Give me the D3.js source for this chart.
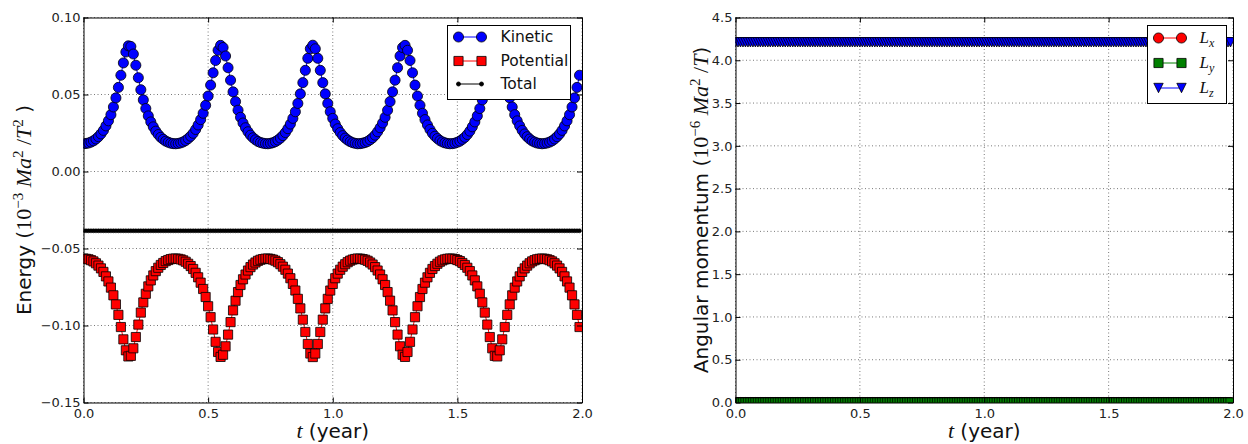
<!DOCTYPE html>
<html>
<head>
<meta charset="utf-8">
<script src="https://cdn.jsdelivr.net/npm/d3@7"></script>
<style>
  html, body { margin: 0; padding: 0; background: #fff; }
  svg { display: block; font-family: "DejaVu Sans", sans-serif; }
</style>
</head>
<body>
<svg id="chart" width="1248" height="444"></svg>
<script>
// sample times (year)
const years = [
    0.00, 0.01, 0.02, 0.03, 0.04, 0.05, 0.06, 0.07, 0.08, 0.09,
    0.10, 0.11, 0.12, 0.13, 0.14, 0.15, 0.16, 0.17, 0.18, 0.19,
    0.20, 0.21, 0.22, 0.23, 0.24, 0.25, 0.26, 0.27, 0.28, 0.29,
    0.30, 0.31, 0.32, 0.33, 0.34, 0.35, 0.36, 0.37, 0.38, 0.39,
    0.40, 0.41, 0.42, 0.43, 0.44, 0.45, 0.46, 0.47, 0.48, 0.49,
    0.50, 0.51, 0.52, 0.53, 0.54, 0.55, 0.56, 0.57, 0.58, 0.59,
    0.60, 0.61, 0.62, 0.63, 0.64, 0.65, 0.66, 0.67, 0.68, 0.69,
    0.70, 0.71, 0.72, 0.73, 0.74, 0.75, 0.76, 0.77, 0.78, 0.79,
    0.80, 0.81, 0.82, 0.83, 0.84, 0.85, 0.86, 0.87, 0.88, 0.89,
    0.90, 0.91, 0.92, 0.93, 0.94, 0.95, 0.96, 0.97, 0.98, 0.99,
    1.00, 1.01, 1.02, 1.03, 1.04, 1.05, 1.06, 1.07, 1.08, 1.09,
    1.10, 1.11, 1.12, 1.13, 1.14, 1.15, 1.16, 1.17, 1.18, 1.19,
    1.20, 1.21, 1.22, 1.23, 1.24, 1.25, 1.26, 1.27, 1.28, 1.29,
    1.30, 1.31, 1.32, 1.33, 1.34, 1.35, 1.36, 1.37, 1.38, 1.39,
    1.40, 1.41, 1.42, 1.43, 1.44, 1.45, 1.46, 1.47, 1.48, 1.49,
    1.50, 1.51, 1.52, 1.53, 1.54, 1.55, 1.56, 1.57, 1.58, 1.59,
    1.60, 1.61, 1.62, 1.63, 1.64, 1.65, 1.66, 1.67, 1.68, 1.69,
    1.70, 1.71, 1.72, 1.73, 1.74, 1.75, 1.76, 1.77, 1.78, 1.79,
    1.80, 1.81, 1.82, 1.83, 1.84, 1.85, 1.86, 1.87, 1.88, 1.89,
    1.90, 1.91, 1.92, 1.93, 1.94, 1.95, 1.96, 1.97, 1.98, 1.99
];

// energy, 10^-3 Ma^2/T^2
const kinetic = [
    0.0180, 0.0182, 0.0185, 0.0191, 0.0199, 0.0211, 0.0226, 0.0244, 0.0267, 0.0296,
    0.0329, 0.0369, 0.0419, 0.0478, 0.0546, 0.0625, 0.0705, 0.0776, 0.0816, 0.0812,
    0.0763, 0.0690, 0.0609, 0.0531, 0.0465, 0.0409, 0.0361, 0.0322, 0.0290, 0.0262,
    0.0240, 0.0222, 0.0209, 0.0197, 0.0190, 0.0184, 0.0181, 0.0180, 0.0182, 0.0186,
    0.0192, 0.0201, 0.0214, 0.0229, 0.0248, 0.0273, 0.0302, 0.0337, 0.0378, 0.0430,
    0.0490, 0.0561, 0.0641, 0.0721, 0.0787, 0.0819, 0.0805, 0.0750, 0.0674, 0.0593,
    0.0517, 0.0454, 0.0398, 0.0352, 0.0315, 0.0284, 0.0258, 0.0236, 0.0219, 0.0206,
    0.0195, 0.0188, 0.0184, 0.0181, 0.0180, 0.0183, 0.0187, 0.0194, 0.0204, 0.0217,
    0.0233, 0.0253, 0.0278, 0.0308, 0.0345, 0.0388, 0.0442, 0.0504, 0.0577, 0.0657,
    0.0735, 0.0797, 0.0820, 0.0797, 0.0735, 0.0657, 0.0577, 0.0504, 0.0442, 0.0388,
    0.0345, 0.0308, 0.0278, 0.0253, 0.0233, 0.0217, 0.0204, 0.0194, 0.0187, 0.0183,
    0.0180, 0.0181, 0.0184, 0.0188, 0.0195, 0.0206, 0.0219, 0.0236, 0.0258, 0.0284,
    0.0315, 0.0352, 0.0398, 0.0454, 0.0517, 0.0593, 0.0674, 0.0750, 0.0805, 0.0819,
    0.0787, 0.0721, 0.0641, 0.0561, 0.0490, 0.0430, 0.0378, 0.0337, 0.0302, 0.0273,
    0.0248, 0.0229, 0.0214, 0.0201, 0.0192, 0.0186, 0.0182, 0.0180, 0.0181, 0.0184,
    0.0190, 0.0197, 0.0209, 0.0222, 0.0240, 0.0262, 0.0290, 0.0322, 0.0361, 0.0409,
    0.0465, 0.0531, 0.0609, 0.0690, 0.0763, 0.0812, 0.0816, 0.0776, 0.0705, 0.0625,
    0.0546, 0.0478, 0.0419, 0.0369, 0.0329, 0.0296, 0.0267, 0.0244, 0.0226, 0.0211,
    0.0199, 0.0191, 0.0185, 0.0182, 0.0180, 0.0182, 0.0185, 0.0191, 0.0199, 0.0211,
    0.0226, 0.0244, 0.0267, 0.0296, 0.0329, 0.0369, 0.0419, 0.0478, 0.0546, 0.0625
];

const potential = [
    -0.0565, -0.0567, -0.0570, -0.0576, -0.0584, -0.0596, -0.0611, -0.0629, -0.0652, -0.0681,
    -0.0714, -0.0754, -0.0804, -0.0863, -0.0931, -0.1010, -0.1090, -0.1161, -0.1201, -0.1197,
    -0.1148, -0.1075, -0.0994, -0.0916, -0.0850, -0.0794, -0.0746, -0.0707, -0.0675, -0.0647,
    -0.0625, -0.0607, -0.0594, -0.0582, -0.0575, -0.0569, -0.0566, -0.0565, -0.0567, -0.0571,
    -0.0577, -0.0586, -0.0599, -0.0614, -0.0633, -0.0658, -0.0687, -0.0722, -0.0763, -0.0815,
    -0.0875, -0.0946, -0.1026, -0.1106, -0.1172, -0.1204, -0.1190, -0.1135, -0.1059, -0.0978,
    -0.0902, -0.0839, -0.0783, -0.0737, -0.0700, -0.0669, -0.0643, -0.0621, -0.0604, -0.0591,
    -0.0580, -0.0573, -0.0569, -0.0566, -0.0565, -0.0568, -0.0572, -0.0579, -0.0589, -0.0602,
    -0.0618, -0.0638, -0.0663, -0.0693, -0.0730, -0.0773, -0.0827, -0.0889, -0.0962, -0.1042,
    -0.1120, -0.1182, -0.1205, -0.1182, -0.1120, -0.1042, -0.0962, -0.0889, -0.0827, -0.0773,
    -0.0730, -0.0693, -0.0663, -0.0638, -0.0618, -0.0602, -0.0589, -0.0579, -0.0572, -0.0568,
    -0.0565, -0.0566, -0.0569, -0.0573, -0.0580, -0.0591, -0.0604, -0.0621, -0.0643, -0.0669,
    -0.0700, -0.0737, -0.0783, -0.0839, -0.0902, -0.0978, -0.1059, -0.1135, -0.1190, -0.1204,
    -0.1172, -0.1106, -0.1026, -0.0946, -0.0875, -0.0815, -0.0763, -0.0722, -0.0687, -0.0658,
    -0.0633, -0.0614, -0.0599, -0.0586, -0.0577, -0.0571, -0.0567, -0.0565, -0.0566, -0.0569,
    -0.0575, -0.0582, -0.0594, -0.0607, -0.0625, -0.0647, -0.0675, -0.0707, -0.0746, -0.0794,
    -0.0850, -0.0916, -0.0994, -0.1075, -0.1148, -0.1197, -0.1201, -0.1161, -0.1090, -0.1010,
    -0.0931, -0.0863, -0.0804, -0.0754, -0.0714, -0.0681, -0.0652, -0.0629, -0.0611, -0.0596,
    -0.0584, -0.0576, -0.0570, -0.0567, -0.0565, -0.0567, -0.0570, -0.0576, -0.0584, -0.0596,
    -0.0611, -0.0629, -0.0652, -0.0681, -0.0714, -0.0754, -0.0804, -0.0863, -0.0931, -0.1010
];

const total = [
    -0.0385, -0.0385, -0.0385, -0.0385, -0.0385, -0.0385, -0.0385, -0.0385, -0.0385, -0.0385,
    -0.0385, -0.0385, -0.0385, -0.0385, -0.0385, -0.0385, -0.0385, -0.0385, -0.0385, -0.0385,
    -0.0385, -0.0385, -0.0385, -0.0385, -0.0385, -0.0385, -0.0385, -0.0385, -0.0385, -0.0385,
    -0.0385, -0.0385, -0.0385, -0.0385, -0.0385, -0.0385, -0.0385, -0.0385, -0.0385, -0.0385,
    -0.0385, -0.0385, -0.0385, -0.0385, -0.0385, -0.0385, -0.0385, -0.0385, -0.0385, -0.0385,
    -0.0385, -0.0385, -0.0385, -0.0385, -0.0385, -0.0385, -0.0385, -0.0385, -0.0385, -0.0385,
    -0.0385, -0.0385, -0.0385, -0.0385, -0.0385, -0.0385, -0.0385, -0.0385, -0.0385, -0.0385,
    -0.0385, -0.0385, -0.0385, -0.0385, -0.0385, -0.0385, -0.0385, -0.0385, -0.0385, -0.0385,
    -0.0385, -0.0385, -0.0385, -0.0385, -0.0385, -0.0385, -0.0385, -0.0385, -0.0385, -0.0385,
    -0.0385, -0.0385, -0.0385, -0.0385, -0.0385, -0.0385, -0.0385, -0.0385, -0.0385, -0.0385,
    -0.0385, -0.0385, -0.0385, -0.0385, -0.0385, -0.0385, -0.0385, -0.0385, -0.0385, -0.0385,
    -0.0385, -0.0385, -0.0385, -0.0385, -0.0385, -0.0385, -0.0385, -0.0385, -0.0385, -0.0385,
    -0.0385, -0.0385, -0.0385, -0.0385, -0.0385, -0.0385, -0.0385, -0.0385, -0.0385, -0.0385,
    -0.0385, -0.0385, -0.0385, -0.0385, -0.0385, -0.0385, -0.0385, -0.0385, -0.0385, -0.0385,
    -0.0385, -0.0385, -0.0385, -0.0385, -0.0385, -0.0385, -0.0385, -0.0385, -0.0385, -0.0385,
    -0.0385, -0.0385, -0.0385, -0.0385, -0.0385, -0.0385, -0.0385, -0.0385, -0.0385, -0.0385,
    -0.0385, -0.0385, -0.0385, -0.0385, -0.0385, -0.0385, -0.0385, -0.0385, -0.0385, -0.0385,
    -0.0385, -0.0385, -0.0385, -0.0385, -0.0385, -0.0385, -0.0385, -0.0385, -0.0385, -0.0385,
    -0.0385, -0.0385, -0.0385, -0.0385, -0.0385, -0.0385, -0.0385, -0.0385, -0.0385, -0.0385,
    -0.0385, -0.0385, -0.0385, -0.0385, -0.0385, -0.0385, -0.0385, -0.0385, -0.0385, -0.0385
];

// angular momentum, 10^-6 Ma^2/T
const momentumX = [
    0, 0, 0, 0, 0, 0, 0, 0, 0, 0,  0, 0, 0, 0, 0, 0, 0, 0, 0, 0,
    0, 0, 0, 0, 0, 0, 0, 0, 0, 0,  0, 0, 0, 0, 0, 0, 0, 0, 0, 0,
    0, 0, 0, 0, 0, 0, 0, 0, 0, 0,  0, 0, 0, 0, 0, 0, 0, 0, 0, 0,
    0, 0, 0, 0, 0, 0, 0, 0, 0, 0,  0, 0, 0, 0, 0, 0, 0, 0, 0, 0,
    0, 0, 0, 0, 0, 0, 0, 0, 0, 0,  0, 0, 0, 0, 0, 0, 0, 0, 0, 0,
    0, 0, 0, 0, 0, 0, 0, 0, 0, 0,  0, 0, 0, 0, 0, 0, 0, 0, 0, 0,
    0, 0, 0, 0, 0, 0, 0, 0, 0, 0,  0, 0, 0, 0, 0, 0, 0, 0, 0, 0,
    0, 0, 0, 0, 0, 0, 0, 0, 0, 0,  0, 0, 0, 0, 0, 0, 0, 0, 0, 0,
    0, 0, 0, 0, 0, 0, 0, 0, 0, 0,  0, 0, 0, 0, 0, 0, 0, 0, 0, 0,
    0, 0, 0, 0, 0, 0, 0, 0, 0, 0,  0, 0, 0, 0, 0, 0, 0, 0, 0, 0
];

const momentumY = [
    0, 0, 0, 0, 0, 0, 0, 0, 0, 0,  0, 0, 0, 0, 0, 0, 0, 0, 0, 0,
    0, 0, 0, 0, 0, 0, 0, 0, 0, 0,  0, 0, 0, 0, 0, 0, 0, 0, 0, 0,
    0, 0, 0, 0, 0, 0, 0, 0, 0, 0,  0, 0, 0, 0, 0, 0, 0, 0, 0, 0,
    0, 0, 0, 0, 0, 0, 0, 0, 0, 0,  0, 0, 0, 0, 0, 0, 0, 0, 0, 0,
    0, 0, 0, 0, 0, 0, 0, 0, 0, 0,  0, 0, 0, 0, 0, 0, 0, 0, 0, 0,
    0, 0, 0, 0, 0, 0, 0, 0, 0, 0,  0, 0, 0, 0, 0, 0, 0, 0, 0, 0,
    0, 0, 0, 0, 0, 0, 0, 0, 0, 0,  0, 0, 0, 0, 0, 0, 0, 0, 0, 0,
    0, 0, 0, 0, 0, 0, 0, 0, 0, 0,  0, 0, 0, 0, 0, 0, 0, 0, 0, 0,
    0, 0, 0, 0, 0, 0, 0, 0, 0, 0,  0, 0, 0, 0, 0, 0, 0, 0, 0, 0,
    0, 0, 0, 0, 0, 0, 0, 0, 0, 0,  0, 0, 0, 0, 0, 0, 0, 0, 0, 0
];

const momentumZ = [
    4.21, 4.21, 4.21, 4.21, 4.21, 4.21, 4.21, 4.21, 4.21, 4.21,
    4.21, 4.21, 4.21, 4.21, 4.21, 4.21, 4.21, 4.21, 4.21, 4.21,
    4.21, 4.21, 4.21, 4.21, 4.21, 4.21, 4.21, 4.21, 4.21, 4.21,
    4.21, 4.21, 4.21, 4.21, 4.21, 4.21, 4.21, 4.21, 4.21, 4.21,
    4.21, 4.21, 4.21, 4.21, 4.21, 4.21, 4.21, 4.21, 4.21, 4.21,
    4.21, 4.21, 4.21, 4.21, 4.21, 4.21, 4.21, 4.21, 4.21, 4.21,
    4.21, 4.21, 4.21, 4.21, 4.21, 4.21, 4.21, 4.21, 4.21, 4.21,
    4.21, 4.21, 4.21, 4.21, 4.21, 4.21, 4.21, 4.21, 4.21, 4.21,
    4.21, 4.21, 4.21, 4.21, 4.21, 4.21, 4.21, 4.21, 4.21, 4.21,
    4.21, 4.21, 4.21, 4.21, 4.21, 4.21, 4.21, 4.21, 4.21, 4.21,
    4.21, 4.21, 4.21, 4.21, 4.21, 4.21, 4.21, 4.21, 4.21, 4.21,
    4.21, 4.21, 4.21, 4.21, 4.21, 4.21, 4.21, 4.21, 4.21, 4.21,
    4.21, 4.21, 4.21, 4.21, 4.21, 4.21, 4.21, 4.21, 4.21, 4.21,
    4.21, 4.21, 4.21, 4.21, 4.21, 4.21, 4.21, 4.21, 4.21, 4.21,
    4.21, 4.21, 4.21, 4.21, 4.21, 4.21, 4.21, 4.21, 4.21, 4.21,
    4.21, 4.21, 4.21, 4.21, 4.21, 4.21, 4.21, 4.21, 4.21, 4.21,
    4.21, 4.21, 4.21, 4.21, 4.21, 4.21, 4.21, 4.21, 4.21, 4.21,
    4.21, 4.21, 4.21, 4.21, 4.21, 4.21, 4.21, 4.21, 4.21, 4.21,
    4.21, 4.21, 4.21, 4.21, 4.21, 4.21, 4.21, 4.21, 4.21, 4.21,
    4.21, 4.21, 4.21, 4.21, 4.21, 4.21, 4.21, 4.21, 4.21, 4.21
];

const yearTicks = [0, 0.5, 1.0, 1.5, 2.0];
const energyTicks = [-0.15, -0.10, -0.05, 0.00, 0.05, 0.10];
const momentumTicks = [0, 0.5, 1.0, 1.5, 2.0, 2.5, 3.0, 3.5, 4.0, 4.5];

const svg = d3.select("#chart");
const mathFont = "'Liberation Serif', 'DejaVu Serif', serif";

const shapes = {
    circle: d3.symbol(d3.symbolCircle, 80)(),
    square: d3.symbol(d3.symbolSquare, 84)(),
    dot: d3.symbol(d3.symbolCircle, 13)(),
    triangleDown: "M-4.7,-4.7L4.7,-4.7L0,4.7Z"
};

// write rich label parts into a <text>: {t, font: "sans"|"rm"|"it", sup, sub}
function richText(text, parts, size) {
    let shift = 0;
    const mathSize = Math.round(size * 1.08);
    parts.forEach(p => {
        const target = p.sup ? -Math.round(size * 0.4) : p.sub ? Math.round(size * 0.25) : 0;
        const base = p.font === "sans" ? size : mathSize;
        text.append("tspan")
            .attr("dy", target - shift)
            .style("font-family", p.font === "sans" ? "'DejaVu Sans', sans-serif" : mathFont)
            .style("font-style", p.font === "it" ? "italic" : "normal")
            .style("font-size", (p.sup || p.sub) ? `${Math.round(base * 0.7)}px` : `${base}px`)
            .text(p.t);
        shift = target;
    });
}

function drawPanel(p) {
    const top = 17.5, bottom = 402.5;
    const x = d3.scaleLinear().domain([0, 2]).range([p.left, p.right]);
    const y = d3.scaleLinear().domain(p.yDomain).range([bottom, top]);
    const g = svg.append("g");

    svg.append("clipPath").attr("id", `clip-${p.id}`)
        .append("rect")
        .attr("x", p.left).attr("y", top)
        .attr("width", p.right - p.left).attr("height", bottom - top);

    // dotted grid
    const grid = g.append("g")
        .attr("stroke", "#000")
        .attr("stroke-width", 0.7)
        .attr("stroke-dasharray", "1,2.5")
        .attr("opacity", 0.75);
    grid.selectAll(".gx").data(yearTicks).join("line")
        .attr("x1", d => x(d)).attr("x2", d => x(d))
        .attr("y1", top).attr("y2", bottom);
    grid.selectAll(".gy").data(p.yTicks).join("line")
        .attr("x1", p.left).attr("x2", p.right)
        .attr("y1", d => y(d)).attr("y2", d => y(d));

    // series: line then markers
    p.series.forEach(s => {
        const pts = years.map((t, i) => [t, s.values[i]]);
        const sg = g.append("g").attr("clip-path", `url(#clip-${p.id})`);
        sg.append("path")
            .datum(pts)
            .attr("fill", "none")
            .attr("stroke", s.color)
            .attr("stroke-width", 1)
            .attr("d", d3.line().x(d => x(d[0])).y(d => y(d[1])));
        sg.selectAll("path.marker")
            .data(pts)
            .join("path")
            .attr("class", "marker")
            .attr("transform", d => `translate(${x(d[0])},${y(d[1])})`)
            .attr("d", shapes[s.shape])
            .attr("fill", s.color)
            .attr("stroke", "#000")
            .attr("stroke-width", s.shape === "dot" ? 0.5 : 0.8);
    });

    // axes, ticks pointing inward on all four sides
    const styleAxis = sel => {
        sel.select(".domain").attr("stroke", "#000").attr("stroke-width", 1);
        sel.selectAll(".tick line").attr("stroke", "#000").attr("stroke-width", 1);
        sel.attr("font-family", "'DejaVu Sans', sans-serif").attr("font-size", 13);
        sel.selectAll(".tick text").attr("fill", "#222");
    };
    g.append("g")
        .attr("transform", `translate(0,${bottom})`)
        .call(d3.axisBottom(x).tickValues(yearTicks).tickFormat(d3.format(".1f"))
            .tickSizeInner(-5).tickSizeOuter(0).tickPadding(6))
        .call(styleAxis);
    g.append("g")
        .attr("transform", `translate(0,${top})`)
        .call(d3.axisTop(x).tickValues(yearTicks).tickFormat("")
            .tickSizeInner(-5).tickSizeOuter(0))
        .call(styleAxis);
    g.append("g")
        .attr("transform", `translate(${p.left},0)`)
        .call(d3.axisLeft(y).tickValues(p.yTicks).tickFormat(d3.format(p.yFormat))
            .tickSizeInner(-5).tickSizeOuter(0).tickPadding(3))
        .call(styleAxis);
    g.append("g")
        .attr("transform", `translate(${p.right},0)`)
        .call(d3.axisRight(y).tickValues(p.yTicks).tickFormat("")
            .tickSizeInner(-5).tickSizeOuter(0))
        .call(styleAxis);

    // x label
    const xl = svg.append("text")
        .attr("x", (p.left + p.right) / 2)
        .attr("y", 438)
        .attr("text-anchor", "middle")
        .attr("fill", "#111");
    richText(xl, [{ t: "t", font: "it" }, { t: " (year)", font: "sans" }], 20);

    // y label
    const yl = svg.append("text")
        .attr("transform", `translate(${p.yLabelX},${(top + bottom) / 2}) rotate(-90)`)
        .attr("text-anchor", "middle")
        .attr("fill", "#111");
    richText(yl, p.yLabel, 20);

    // legend
    const lg = svg.append("g");
    lg.append("rect")
        .attr("x", p.legend.x).attr("y", p.legend.y)
        .attr("width", p.legend.w).attr("height", p.legend.h)
        .attr("fill", "#fff").attr("stroke", "#000").attr("stroke-width", 1);
    p.series.forEach((s, i) => {
        const ry = p.legend.rows[i];
        const x1 = p.legend.x + 11, x2 = p.legend.x + 34;
        lg.append("line")
            .attr("x1", x1).attr("x2", x2).attr("y1", ry).attr("y2", ry)
            .attr("stroke", s.color).attr("stroke-width", 1);
        [x1, x2].forEach(mx => {
            lg.append("path")
                .attr("transform", `translate(${mx},${ry})`)
                .attr("d", shapes[s.shape])
                .attr("fill", s.color)
                .attr("stroke", "#000")
                .attr("stroke-width", 0.8);
        });
        const lt = lg.append("text")
            .attr("x", p.legend.x + p.legend.textDx)
            .attr("y", ry + 5)
            .attr("fill", "#111");
        richText(lt, s.label, p.legend.fontSize);
    });
}

drawPanel({
    id: "energy",
    left: 83.5, right: 582,
    yDomain: [-0.15, 0.10],
    yTicks: energyTicks,
    yFormat: ".2f",
    yLabelX: 31,
    yLabel: [
        { t: "Energy (", font: "sans" },
        { t: "10", font: "rm" },
        { t: "\u22123", font: "rm", sup: true },
        { t: " Ma", font: "it" },
        { t: "2", font: "rm", sup: true },
        { t: " /", font: "rm" },
        { t: "T", font: "it" },
        { t: "2", font: "rm", sup: true },
        { t: " )", font: "sans" }
    ],
    series: [
        { values: kinetic, color: "#0000ff", shape: "circle", label: [{ t: "Kinetic", font: "sans" }] },
        { values: potential, color: "#ff0000", shape: "square", label: [{ t: "Potential", font: "sans" }] },
        { values: total, color: "#000000", shape: "dot", label: [{ t: "Total", font: "sans" }] }
    ],
    legend: { x: 447.5, y: 25.5, w: 123, h: 74, rows: [37, 61, 84], textDx: 53, fontSize: 15.5 }
});

drawPanel({
    id: "momentum",
    left: 735.5, right: 1233,
    yDomain: [0, 4.5],
    yTicks: momentumTicks,
    yFormat: ".1f",
    yLabelX: 708,
    yLabel: [
        { t: "Angular momentum (", font: "sans" },
        { t: "10", font: "rm" },
        { t: "\u22126", font: "rm", sup: true },
        { t: " Ma", font: "it" },
        { t: "2", font: "rm", sup: true },
        { t: " /", font: "rm" },
        { t: "T", font: "it" },
        { t: ")", font: "sans" }
    ],
    series: [
        { values: momentumX, color: "#ff0000", shape: "circle", label: [{ t: "L", font: "it" }, { t: "x", font: "it", sub: true }] },
        { values: momentumY, color: "#008000", shape: "square", label: [{ t: "L", font: "it" }, { t: "y", font: "it", sub: true }] },
        { values: momentumZ, color: "#0000ff", shape: "triangleDown", label: [{ t: "L", font: "it" }, { t: "z", font: "it", sub: true }] }
    ],
    legend: { x: 1147.5, y: 25.5, w: 79, h: 78, rows: [38, 63, 88], textDx: 52, fontSize: 16 }
});
</script>
</body>
</html>
